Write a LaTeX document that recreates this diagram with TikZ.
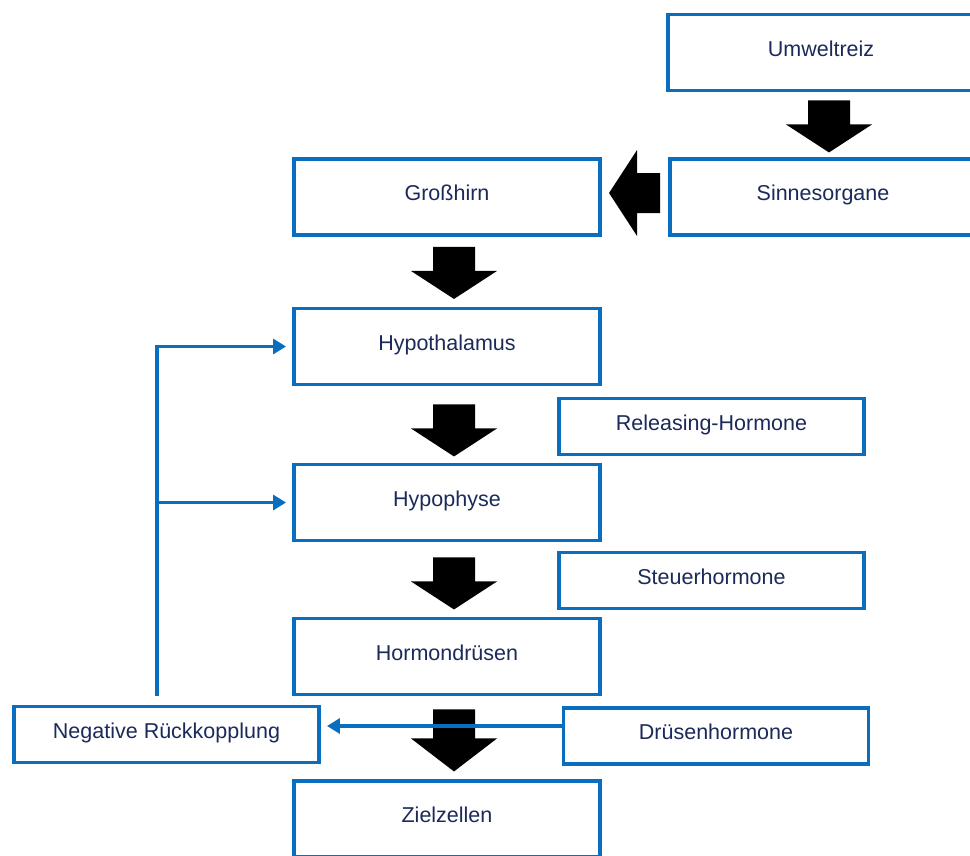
\documentclass[tikz,border=0pt]{standalone}
\usepackage{fontspec}
\setmainfont{Liberation Sans}
\usetikzlibrary{arrows.meta,calc}
\definecolor{bblue}{HTML}{0A6EC0}
\definecolor{txt}{HTML}{1B2A5A}
\tikzset{
  box/.style={draw=bblue, line width=3.9pt, fill=white, minimum width=306pt, minimum height=76pt,
    inner sep=0pt, text=txt, font=\fontsize{21.5}{26}\selectfont, text height=10pt, text depth=2.6pt},
  sbox/.style={box, minimum width=305pt, minimum height=56pt},
  fb/.style={draw=bblue, line width=3.7pt, -{Triangle[length=13pt,width=15pt]}},
  fbline/.style={draw=bblue, line width=3.7pt},
  blockdown/.pic={\fill[black] (-21,0) -- (21,0) -- (21,24) -- (43,24) -- (0,52) -- (-43,24) -- (-21,24) -- cycle;},
  blockdownlong/.pic={\fill[black] (-21,0) -- (21,0) -- (21,29) -- (43,29) -- (0,62) -- (-43,29) -- (-21,29) -- cycle;},
  blockleft/.pic={\fill[black] (0,-20) -- (0,20) -- (-23,20) -- (-23,43) -- (-51,0) -- (-23,-43) -- (-23,-20) -- cycle;}
}
\begin{document}
\begin{tikzpicture}[x=1pt,y=-1pt]
\useasboundingbox (0,0) rectangle (970,855);
\clip (0,0) rectangle (970,855);
% boxes
\node[box] (uw) at (821,52.5) {Umweltreiz};
\node[box] (so) at (823,197) {Sinnesorgane};
\node[box] (gh) at (447,197) {Großhirn};
\node[box] (hy) at (447,346.5) {Hypothalamus};
\node[sbox] (rh) at (711.5,426.5) {Releasing-Hormone};
\node[box] (hp) at (447,502.5) {Hypophyse};
\node[sbox] (sh) at (711.5,580.5) {Steuerhormone};
\node[box] (hd) at (447,656.5) {Hormondrüsen};
\node[sbox] (nr) at (166.5,734.5) {Negative Rückkopplung};
\node[sbox] (dh) at (716,736) {Drüsenhormone};
\node[box] (zz) at (447,819) {Zielzellen};
% block arrows
\pic at ($(uw.south)+(8,8)$) {blockdown};
\pic at ($(so.west)+(-8,-4)$) {blockleft};
\pic at ($(gh.south)+(7,10)$) {blockdown};
\pic at ($(hy.south)+(7,18)$) {blockdown};
\pic at ($(hp.south)+(7,15)$) {blockdown};
\pic at ($(hd.south)+(7,13)$) {blockdownlong};
% feedback
\draw[fb] ([yshift=10pt]dh.west) coordinate (p) -- ([xshift=6pt]nr.east |- p);
\draw[fbline] ([xshift=-9.5pt,yshift=9pt]nr.north) coordinate (fbs) -- (fbs |- hy.west);
\draw[fb] ([xshift=-1.85pt]fbs |- hy.west) -- ([xshift=-6pt]hy.west);
\draw[fb] (fbs |- hp.west) -- ([xshift=-6pt]hp.west);
\end{tikzpicture}
\end{document}
